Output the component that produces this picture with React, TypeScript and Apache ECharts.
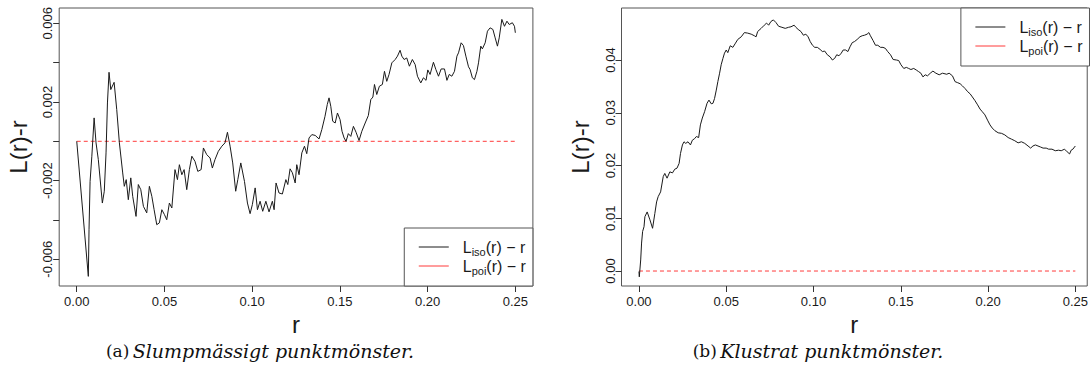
import React, { useEffect, useRef } from 'react';
import * as echarts from 'echarts';

// (a) random point pattern: r and L_iso(r) - r
const rA = [
  0.0, 0.0066, 0.007, 0.0076, 0.0086, 0.0099, 0.011, 0.0123, 0.0146, 0.0157, 0.0167, 0.0175, 0.0184, 0.0194,
  0.0213, 0.0228, 0.0243, 0.0262, 0.0271, 0.0282, 0.0294, 0.0308, 0.0319, 0.0338, 0.0351, 0.0365, 0.038, 0.0399,
  0.0414, 0.0428, 0.0441, 0.0456, 0.0471, 0.0485, 0.05, 0.0513, 0.0528, 0.0542, 0.056, 0.0574, 0.0585, 0.0599,
  0.0612, 0.0627, 0.0642, 0.0656, 0.0674, 0.069, 0.0709, 0.0722, 0.0741, 0.076, 0.0773, 0.0788, 0.0807, 0.0827,
  0.0845, 0.0859, 0.0874, 0.0889, 0.0906, 0.0918, 0.0935, 0.0956, 0.0973, 0.0988, 0.1001, 0.1017, 0.103, 0.1045,
  0.106, 0.1078, 0.1096, 0.1115, 0.1125, 0.1136, 0.1153, 0.1172, 0.1192, 0.1203, 0.1216, 0.1229, 0.1245, 0.1254,
  0.1267, 0.1283, 0.1298, 0.1311, 0.1324, 0.134, 0.1359, 0.1381, 0.1397, 0.1415, 0.1428, 0.1438, 0.1448, 0.1459,
  0.1473, 0.1486, 0.1501, 0.1512, 0.1524, 0.1535, 0.1548, 0.1562, 0.1577, 0.1592, 0.1609, 0.1625, 0.1644, 0.1662,
  0.1676, 0.1688, 0.1697, 0.171, 0.1725, 0.1742, 0.1754, 0.1767, 0.178, 0.1796, 0.1815, 0.1828, 0.1843, 0.1853,
  0.1866, 0.1881, 0.1896, 0.1913, 0.1929, 0.1942, 0.1961, 0.1976, 0.1991, 0.2001, 0.2014, 0.2033, 0.2047, 0.2062,
  0.2077, 0.2096, 0.211, 0.2123, 0.2138, 0.2153, 0.2167, 0.2176, 0.2191, 0.2204, 0.2218, 0.2233, 0.2242, 0.2255,
  0.2267, 0.2281, 0.229, 0.2303, 0.2312, 0.2328, 0.2341, 0.2356, 0.2372, 0.2385, 0.2398, 0.2408, 0.2423, 0.2438,
  0.2452, 0.2465, 0.2483, 0.2495, 0.25,
];
const lisoA = [
  0.0, -0.00687, -0.0045, -0.00204, -0.00076, 0.00119, -0.00008, -0.00093, -0.00314, -0.00254, -0.00059, 0.00195, 0.00351, 0.00263,
  0.003, 0.00161, -0.00008, -0.00161, -0.00229, -0.00195, -0.00297, -0.00186, -0.0028, -0.00382, -0.0022, -0.00246, -0.00331, -0.00364,
  -0.00229, -0.0028, -0.00348, -0.00424, -0.00415, -0.00348, -0.00373, -0.00399, -0.00314, -0.00339, -0.00144, -0.00195, -0.00119, -0.0017,
  -0.00144, -0.00246, -0.00144, -0.00076, -0.00102, -0.00153, -0.00144, -0.00034, -0.00068, -0.00085, -0.00136, -0.00093, -0.00051, -0.00025,
  -0.00008, 0.00046, -0.00025, -0.0011, -0.00254, -0.00195, -0.0011, -0.00204, -0.00314, -0.00368, -0.00322, -0.00237, -0.00348, -0.00305,
  -0.00356, -0.00305, -0.00359, -0.00305, -0.00348, -0.00212, -0.00263, -0.00268, -0.00195, -0.0022, -0.0014, -0.0016, -0.00212, -0.00119,
  -0.0017, -0.00059, -0.00025, -0.00063, 0.00017, 0.00034, 0.0003, 0.00012, 0.0006, 0.00127, 0.00187, 0.00221, 0.00178, 0.00102,
  0.00093, 0.00144, 0.0011, 0.00051, 0.00017, 0.0, 0.00039, 0.00025, 0.00076, 0.00046, 0.00004, 0.00051, 0.00093, 0.00131,
  0.00212, 0.00225, 0.00289, 0.00238, 0.0028, 0.00289, 0.00356, 0.00305, 0.0034, 0.00399, 0.00416, 0.00433, 0.00463, 0.00433,
  0.00416, 0.00424, 0.00382, 0.00416, 0.0039, 0.00331, 0.00297, 0.00323, 0.0031, 0.00363, 0.0034, 0.00402, 0.00365, 0.00331,
  0.00368, 0.00368, 0.0031, 0.0034, 0.00331, 0.00356, 0.00433, 0.0045, 0.00501, 0.00487, 0.00433, 0.00379, 0.00365, 0.00323,
  0.00314, 0.00356, 0.00399, 0.00484, 0.0047, 0.00501, 0.0056, 0.00577, 0.00569, 0.00526, 0.00484, 0.00526, 0.0062, 0.00585,
  0.00611, 0.00594, 0.00603, 0.00585, 0.00552,
];

// (b) clustered point pattern: r and L_iso(r) - r
const rB = [
  0.0, 0.0002, 0.001, 0.0015, 0.0021, 0.0029, 0.0034, 0.0047, 0.0063, 0.0078, 0.0091, 0.0101, 0.011, 0.0124,
  0.0139, 0.0148, 0.0161, 0.0177, 0.0192, 0.0205, 0.0218, 0.023, 0.0238, 0.0249, 0.0258, 0.0268, 0.0281, 0.0295,
  0.0306, 0.0319, 0.0329, 0.0342, 0.0352, 0.0363, 0.0376, 0.039, 0.0401, 0.0414, 0.0424, 0.0433, 0.0443, 0.0452,
  0.0462, 0.0471, 0.0481, 0.049, 0.05, 0.0509, 0.0523, 0.0538, 0.0553, 0.0566, 0.0586, 0.0604, 0.0623, 0.0643,
  0.0661, 0.0671, 0.068, 0.07, 0.0718, 0.0731, 0.0743, 0.0756, 0.077, 0.0785, 0.08, 0.0819, 0.0838, 0.0857,
  0.0871, 0.0889, 0.0899, 0.0912, 0.0928, 0.0942, 0.0956, 0.0969, 0.0981, 0.0994, 0.1007, 0.1022, 0.1038, 0.1051,
  0.1064, 0.1079, 0.1095, 0.1108, 0.1121, 0.1133, 0.1146, 0.1159, 0.117, 0.1184, 0.1197, 0.1209, 0.1222, 0.1235,
  0.125, 0.1266, 0.1279, 0.1292, 0.1307, 0.1317, 0.1326, 0.1341, 0.1355, 0.1368, 0.1384, 0.1398, 0.1412, 0.1425,
  0.1441, 0.1456, 0.1475, 0.1488, 0.1501, 0.1517, 0.1532, 0.1545, 0.1558, 0.1574, 0.1589, 0.1602, 0.1615, 0.1627,
  0.164, 0.1653, 0.1669, 0.1684, 0.1701, 0.172, 0.1739, 0.1763, 0.1777, 0.1796, 0.1811, 0.1826, 0.184, 0.1853,
  0.1868, 0.1883, 0.1897, 0.191, 0.1925, 0.194, 0.1954, 0.1967, 0.1982, 0.1997, 0.2011, 0.2024, 0.2039, 0.2058,
  0.2077, 0.2096, 0.2115, 0.2134, 0.2153, 0.2172, 0.2191, 0.221, 0.2229, 0.2244, 0.2257, 0.2271, 0.2286, 0.2301,
  0.2315, 0.2333, 0.2347, 0.2366, 0.2385, 0.2404, 0.2419, 0.2438, 0.2453, 0.2467, 0.2476, 0.2486, 0.2495, 0.25,
];
const lisoB = [
  -0.0001, -0.0011, 0.0021, 0.0053, 0.0075, 0.0084, 0.0103, 0.0112, 0.0097, 0.0081, 0.0109, 0.0131, 0.0141, 0.015,
  0.0179, 0.0185, 0.0176, 0.0188, 0.0186, 0.0193, 0.0195, 0.0204, 0.0223, 0.0239, 0.0245, 0.0242, 0.0245, 0.0239,
  0.0248, 0.0251, 0.0255, 0.0253, 0.0277, 0.029, 0.0302, 0.0318, 0.0324, 0.0317, 0.0318, 0.0327, 0.0343, 0.0359,
  0.0375, 0.0391, 0.0403, 0.0413, 0.0419, 0.0414, 0.0427, 0.0424, 0.0432, 0.0439, 0.0444, 0.0452, 0.0451, 0.0449,
  0.0446, 0.0444, 0.0454, 0.046, 0.0466, 0.047, 0.0466, 0.0473, 0.0476, 0.0471, 0.0464, 0.0462, 0.046, 0.0462,
  0.0463, 0.0466, 0.0462, 0.0458, 0.0454, 0.0447, 0.0449, 0.0444, 0.0435, 0.0428, 0.0424, 0.0424, 0.042, 0.0416,
  0.0417, 0.041, 0.0406, 0.04, 0.0403, 0.041, 0.0408, 0.0413, 0.0419, 0.0419, 0.0416, 0.0425, 0.0433, 0.0435,
  0.0439, 0.0444, 0.0446, 0.0447, 0.0449, 0.0452, 0.0446, 0.0437, 0.0428, 0.0428, 0.0424, 0.0424, 0.0422, 0.0416,
  0.041, 0.0401, 0.04, 0.0399, 0.0391, 0.0384, 0.0386, 0.0384, 0.0382, 0.0384, 0.0381, 0.0378, 0.0375, 0.0368,
  0.0372, 0.037, 0.0375, 0.0379, 0.0375, 0.0372, 0.0375, 0.0373, 0.0375, 0.037, 0.0359, 0.0357, 0.0355, 0.0351,
  0.0346, 0.034, 0.0336, 0.033, 0.0323, 0.0315, 0.0307, 0.0302, 0.0296, 0.0286, 0.0277, 0.0271, 0.0266, 0.0262,
  0.0261, 0.0258, 0.0253, 0.025, 0.0247, 0.0243, 0.0245, 0.0242, 0.0237, 0.0233, 0.0237, 0.0239, 0.0237, 0.0235,
  0.0233, 0.0233, 0.0231, 0.0231, 0.0228, 0.0229, 0.0228, 0.0231, 0.0226, 0.0222, 0.0229, 0.0231, 0.0235, 0.0237,
];

// Poisson reference: L_poi(r) - r = 0
const poiR = [0, 0.25];
const poiV = [0, 0];

const xTicks = [0, 0.05, 0.1, 0.15, 0.2, 0.25];
const yTicksA = [-0.006, -0.004, -0.002, 0, 0.002, 0.004, 0.006];
const yLabelsA = [-0.006, -0.002, 0.002, 0.006];
const yTicksB = [0, 0.01, 0.02, 0.03, 0.04];

const axisTitleX = 'r';
const axisTitleY = 'L(r)-r';
const captionA = ['(a)', 'Slumpmässigt punktmönster.'];
const captionB = ['(b)', 'Klustrat punktmönster.'];

const zip = (xs: number[], ys: number[]) => xs.map((x, i) => [x, ys[i]]);

const SANS = '"Liberation Sans", Arial, sans-serif';
const BORDER = '#555';
const TXT = '#1a1a1a';
const RED = '#ff3b3b';

function xAxisFor(grid: number, max: number) {
  return {
    gridIndex: grid,
    type: 'value',
    min: -0.01,
    max,
    axisLine: { show: false, onZero: false },
    splitLine: { show: false },
    axisTick: { show: true, length: 6, customValues: xTicks, lineStyle: { color: '#333' } },
    axisLabel: {
      customValues: xTicks,
      formatter: (v: number) => v.toFixed(2),
      fontSize: 13,
      fontFamily: SANS,
      color: TXT,
      margin: 9,
    },
    name: axisTitleX,
    nameLocation: 'middle',
    nameGap: 20,
    nameTextStyle: { fontSize: 24, fontFamily: SANS, color: TXT },
  };
}

function yAxisFor(grid: number, min: number, max: number, ticks: number[], labels: number[], digits: number) {
  return {
    gridIndex: grid,
    type: 'value',
    min,
    max,
    axisLine: { show: false, onZero: false },
    splitLine: { show: false },
    axisTick: { show: true, length: 6, customValues: ticks, lineStyle: { color: '#333' } },
    axisLabel: {
      customValues: labels,
      formatter: (v: number) => v.toFixed(digits),
      fontSize: 13,
      fontFamily: SANS,
      color: TXT,
      rotate: 90,
      margin: 5,
    },
    name: axisTitleY,
    nameLocation: 'middle',
    nameGap: 29,
    nameTextStyle: { fontSize: 24, fontFamily: SANS, color: TXT },
  };
}

const legendRich = {
  g: { width: 9, fontSize: 16, lineHeight: 20 },
  m: { fontSize: 16, lineHeight: 20, fontFamily: SANS, color: TXT },
  s: { fontSize: 11, lineHeight: 11, fontFamily: SANS, color: TXT, verticalAlign: 'bottom' },
};
const legendFormatter = (name: string) =>
  name.startsWith('iso') ? '{g|}{m|L}{s|iso}{m|(r) − r}' : '{g|}{m|L}{s|poi}{m|(r) − r}';

function legendFor(names: string[], pos: Record<string, number>) {
  return {
    ...pos,
    orient: 'vertical',
    data: [
      { name: names[0], lineStyle: { type: 'solid', width: 1 }, itemStyle: { opacity: 0 } },
      { name: names[1], lineStyle: { type: 'solid', width: 1 }, itemStyle: { opacity: 0 } },
    ],
    itemWidth: 30,
    itemHeight: 14,
    itemGap: 1,
    itemStyle: { opacity: 0 },
    lineStyle: { width: 1 },
    padding: [11, 7, 10, 14],
    borderColor: BORDER,
    borderWidth: 1,
    borderRadius: 0,
    backgroundColor: '#fff',
    selectedMode: false,
    formatter: legendFormatter,
    textStyle: { rich: legendRich },
  };
}

function isoSeries(name: string, idx: number, data: number[][]) {
  return {
    name,
    type: 'line',
    xAxisIndex: idx,
    yAxisIndex: idx,
    data,
    symbol: 'none',
    showSymbol: false,
    lineStyle: { color: '#1a1a1a', width: 1 },
    itemStyle: { color: '#1a1a1a' },
    z: 3,
  };
}

function poiSeries(name: string, idx: number) {
  return {
    name,
    type: 'line',
    xAxisIndex: idx,
    yAxisIndex: idx,
    data: zip(poiR, poiV),
    symbol: 'none',
    showSymbol: false,
    lineStyle: { color: RED, width: 1, type: [4, 3] },
    itemStyle: { color: RED },
    z: 2,
  };
}

function captionText(parts: string[], cx: number) {
  return {
    type: 'text',
    x: cx,
    y: 351,
    style: {
      text: `{n|${parts[0]}} {i|${parts[1]}}`,
      align: 'center',
      verticalAlign: 'middle',
      rich: {
        n: { fontFamily: '"DejaVu Serif", serif', fontSize: 17, fill: '#111' },
        i: { fontFamily: '"DejaVu Serif", serif', fontStyle: 'italic', fontSize: 19, fill: '#111' },
      },
    },
  };
}

export default function App() {
  const ref = useRef<HTMLDivElement>(null);
  useEffect(() => {
    if (!ref.current) return;
    const chart = echarts.init(ref.current, undefined, { renderer: 'svg' });
    const option = {
      animation: false,
      backgroundColor: '#fff',
      grid: [
        { left: 59.2, top: 8, width: 473.7, height: 278, show: true, borderColor: BORDER, borderWidth: 1, backgroundColor: 'transparent' },
        { left: 621.5, top: 8, width: 468, height: 278, show: true, borderColor: BORDER, borderWidth: 1, backgroundColor: 'transparent' },
      ],
      xAxis: [xAxisFor(0, 0.26), xAxisFor(1, 0.2568)],
      yAxis: [
        yAxisFor(0, -0.00736, 0.00678, yTicksA, yLabelsA, 3),
        yAxisFor(1, -0.00284, 0.04986, yTicksB, yTicksB, 2),
      ],
      legend: [
        legendFor(['isoA', 'poiA'], { right: 558.1, bottom: 90 }),
        legendFor(['isoB', 'poiB'], { right: 1.5, top: 8 }),
      ],
      series: [
        poiSeries('poiA', 0),
        isoSeries('isoA', 0, zip(rA, lisoA)),
        poiSeries('poiB', 1),
        isoSeries('isoB', 1, zip(rB, lisoB)),
      ],
      graphic: [captionText(captionA, 260), captionText(captionB, 818)],
    };
    chart.setOption(option as any);
    return () => chart.dispose();
  }, []);
  return (
    <div
      ref={ref}
      style={{ position: 'fixed', left: 0, top: 0, width: 1091, height: 376, background: '#fff' }}
    />
  );
}
